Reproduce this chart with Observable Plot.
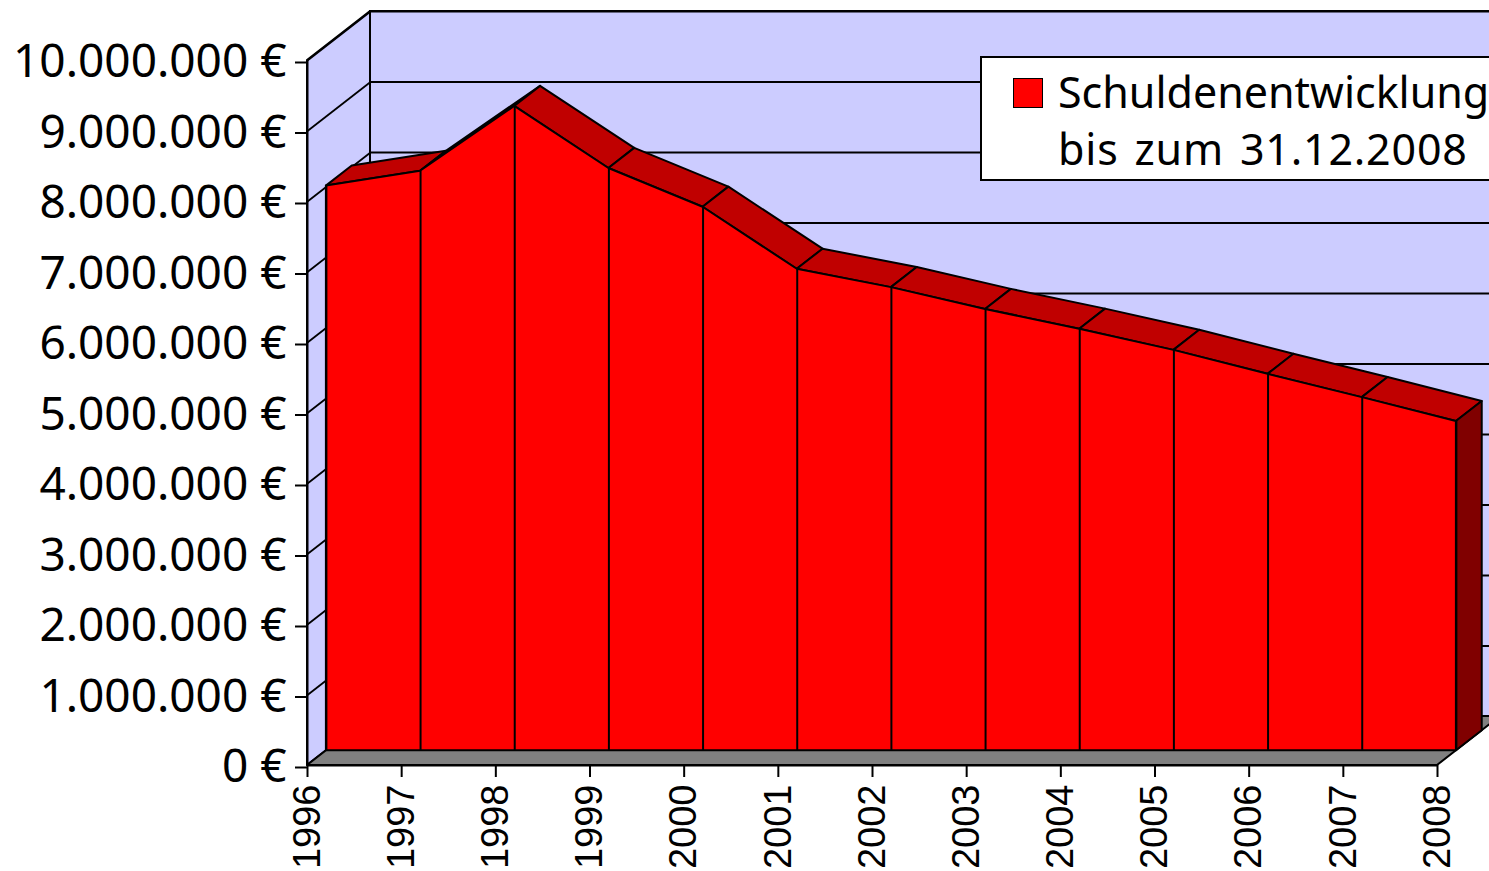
<!DOCTYPE html>
<html><head><meta charset="utf-8">
<script src="https://cdn.jsdelivr.net/npm/d3@7"></script>
<script src="https://cdn.jsdelivr.net/npm/@observablehq/plot@0.6"></script>
<style>
html,body{margin:0;padding:0;background:#fff;overflow:hidden;}
#wrap{position:relative;width:1489px;height:871px;overflow:hidden;background:#fff;}
#wrap svg{overflow:visible;}
#legend{position:absolute;left:980px;top:56px;width:560px;height:121px;background:#fff;border:2px solid #000;font-family:"Noto Sans",sans-serif;font-size:43px;color:#000;}
#legend .sw{position:absolute;left:31px;top:20px;width:28px;height:28px;background:#ff0000;border:1.5px solid #000;}
#legend .ln{position:absolute;left:76px;line-height:43px;white-space:nowrap;}
</style></head><body><div id="wrap"></div>
<script>
// ---- data ----
const years = [1996, 1997, 1998, 1999, 2000, 2001, 2002, 2003, 2004, 2005, 2006, 2007, 2008];
const debt = [8010000, 8220000, 9140000, 8260000, 7710000, 6830000, 6570000, 6260000, 5980000, 5680000, 5340000, 5010000, 4670000];
const yTicks = [0, 1000000, 2000000, 3000000, 4000000, 5000000, 6000000, 7000000, 8000000, 9000000, 10000000];
const legendLines = ["Schuldenentwicklung", "bis zum 31.12.2008"];

// ---- 3D oblique projection expressed in data units ----
const DX = 0.669;      // depth shift in years
const DY = 695000;     // depth shift in euros
const f0 = 0.30, f1 = 0.71; // area front / back depth fraction
const x0 = years[0], xN = years[years.length - 1];
const yMax = yTicks[yTicks.length - 1];

const rows = years.map((year, i) => ({year, value: debt[i]}));

const segs = [];
for (let i = 0; i < rows.length - 1; i++) {
  for (const r of [rows[i], rows[i + 1]]) {
    segs.push({seg: i,
      x1: r.year + f0 * DX, y1: r.value + f0 * DY,
      x2: r.year + f1 * DX, y2: r.value + f1 * DY});
  }
}
const last = rows[rows.length - 1];
const sideFace = [
  {x1: last.year + f0 * DX, y1: f0 * DY, x2: last.year + f1 * DX, y2: f1 * DY},
  {x1: last.year + f0 * DX, y1: last.value + f0 * DY, x2: last.year + f1 * DX, y2: last.value + f1 * DY}
];
const sideWall = [
  {x1: x0, y1: 0, x2: x0 + DX, y2: DY},
  {x1: x0, y1: yMax, x2: x0 + DX, y2: yMax + DY}
];
const floor = [
  {x1: x0, y1: 0, x2: x0 + DX, y2: DY},
  {x1: xN, y1: 0, x2: xN + DX, y2: DY}
];

const loc = d3.formatLocale({decimal: ",", thousands: ".", grouping: [3], currency: ["", " €"]});
const fmt = loc.format(",");
const yFmt = d => fmt(d) + " €";

const chart = Plot.plot({
  width: 1489,
  height: 871,
  marginLeft: 307,
  marginRight: 52,
  marginTop: 60,
  marginBottom: 106,
  x: {type: "linear", domain: [x0, xN]},
  y: {type: "linear", domain: [0, yMax]},
  style: {background: "transparent", overflow: "visible"},
  marks: [
    // back wall
    Plot.rect([0], {x1: () => x0 + DX, x2: () => xN + DX, y1: () => DY, y2: () => yMax + DY, fill: "#ccccff", stroke: "#000", strokeWidth: 2}),
    Plot.ruleY(yTicks.slice(1), {x1: () => x0 + DX, x2: () => xN + DX, y: d => d + DY, stroke: "#000", strokeWidth: 1.8}),
    // side wall
    Plot.area(sideWall, {x1: "x1", y1: "y1", x2: "x2", y2: "y2", fill: "#ccccff", stroke: "#000", strokeWidth: 2}),
    Plot.link(yTicks.slice(1), {x1: () => x0, y1: d => d, x2: () => x0 + DX, y2: d => d + DY, stroke: "#000", strokeWidth: 1.8}),
    // floor
    Plot.area(floor, {x1: "x1", y1: "y1", x2: "x2", y2: "y2", fill: "#808080", stroke: "#000", strokeWidth: 2}),
    // top faces
    Plot.area(segs, {x1: "x1", y1: "y1", x2: "x2", y2: "y2", z: "seg", fill: "#c00000", stroke: "#000", strokeWidth: 2, strokeLinejoin: "round"}),
    // right side face
    Plot.area(sideFace, {x1: "x1", y1: "y1", x2: "x2", y2: "y2", fill: "#800000", stroke: "#000", strokeWidth: 2}),
    // front face
    Plot.areaY(rows, {x: d => d.year + f0 * DX, y1: () => f0 * DY, y2: d => d.value + f0 * DY, fill: "#ff0000", stroke: "#000", strokeWidth: 2, strokeLinejoin: "round"}),
    Plot.ruleX(rows, {x: d => d.year + f0 * DX, y1: () => f0 * DY, y2: d => d.value + f0 * DY, stroke: "#000", strokeWidth: 2}),
    // axes
    Plot.axisY({ticks: yTicks, tickFormat: yFmt, tickSize: 12, tickPadding: 9, strokeWidth: 2, color: "#000", fontSize: 46, fontFamily: "Noto Sans", dy: 2}),
    Plot.axisX({ticks: years, tickFormat: d => String(d), tickRotate: -90, tickSize: 12, tickPadding: 7, strokeWidth: 2, color: "#000", fontSize: 38, fontFamily: "Liberation Sans"}),
    Plot.ruleX([x0], {stroke: "#000", strokeWidth: 2}),
    Plot.ruleY([0], {x1: x0, x2: xN, stroke: "#000", strokeWidth: 2})
  ]
});

const wrap = document.getElementById("wrap");
wrap.appendChild(chart);

const legend = document.createElement("div");
legend.id = "legend";
const sw = document.createElement("div");
sw.className = "sw";
legend.appendChild(sw);
legendLines.forEach((t, i) => {
  const l = document.createElement("div");
  l.className = "ln";
  l.style.top = (12 + i * 57) + "px";
  if (i === 1) { l.style.letterSpacing = "0.8px"; l.style.wordSpacing = "4px"; }
  l.textContent = t;
  legend.appendChild(l);
});
wrap.appendChild(legend);
</script>
</body></html>
